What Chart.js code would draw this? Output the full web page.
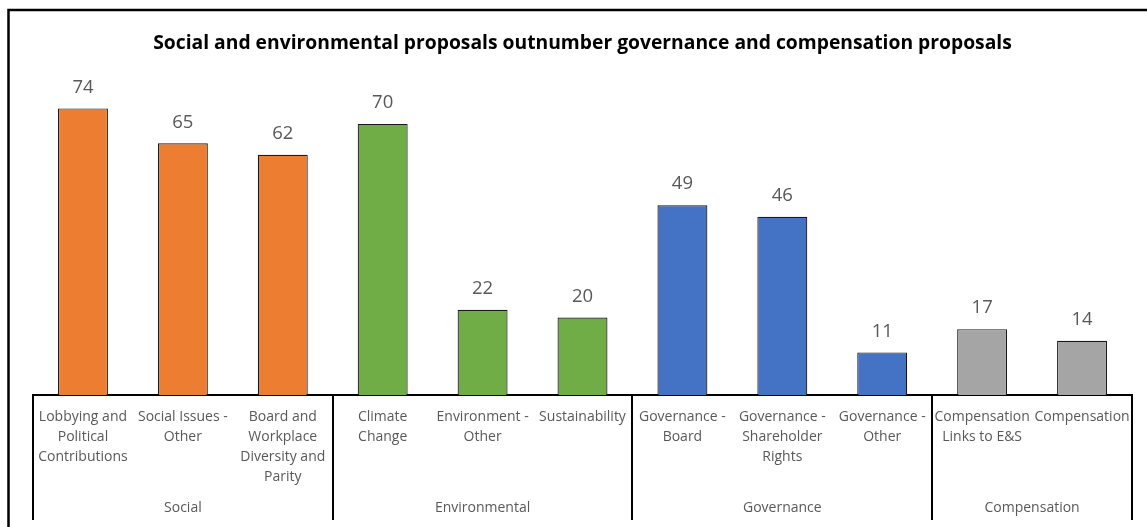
<!DOCTYPE html>
<html><head><meta charset="utf-8">
<script src="https://cdn.jsdelivr.net/npm/chart.js@4/dist/chart.umd.min.js"></script>
<style>html,body{margin:0;padding:0;background:#fff}#wrap{position:relative;width:1147px;height:527px}</style>
</head><body><div id="wrap"><canvas id="c" width="1147" height="527"></canvas></div>
<script>
const title = "Social and environmental proposals outnumber governance and compensation proposals";
const categories = [
  ["Lobbying and","Political","Contributions"],
  ["Social Issues -","Other"],
  ["Board and","Workplace","Diversity and","Parity"],
  ["Climate","Change"],
  ["Environment -","Other"],
  ["Sustainability"],
  ["Governance -","Board"],
  ["Governance -","Shareholder","Rights"],
  ["Governance -","Other"],
  ["Compensation","Links to E&S"],
  ["Compensation"]
];
const values = [74, 65, 62, 70, 22, 20, 49, 46, 11, 17, 14];
const groups = ["Social", "Environmental", "Governance", "Compensation"];
const groupSizes = [3, 3, 3, 2];
const groupColors = ["#ED7D31", "#70AD47", "#4472C4", "#A5A5A5"];
const yMin = 0, yMax = 80;

const FONT = "'Open Sans', 'DejaVu Sans', sans-serif";
const barColors = [];
groupSizes.forEach((n, g) => { for (let i = 0; i < n; i++) barColors.push(groupColors[g]); });

const decor = {
  id: 'decor',
  afterDraw(chart) {
    const ctx = chart.ctx;
    const xs = chart.scales.x;
    const area = chart.chartArea;
    const step = xs.width / categories.length;
    ctx.save();
    // data labels
    const meta = chart.getDatasetMeta(0);
    ctx.font = "18.5px " + FONT;
    ctx.fillStyle = "#595959";
    ctx.textAlign = "center";
    ctx.textBaseline = "middle";
    meta.data.forEach((bar, i) => {
      ctx.fillText(String(values[i]), bar.x, bar.y - 21);
    });
    // group separators and labels
    ctx.strokeStyle = "#000";
    ctx.lineWidth = 2;
    let idx = 0;
    const bounds = [0];
    groupSizes.forEach(n => { idx += n; bounds.push(idx); });
    bounds.forEach(b => {
      const x = Math.round(xs.getPixelForValue(b) - step / 2);
      ctx.beginPath();
      ctx.moveTo(x, area.bottom);
      ctx.lineTo(x, 520);
      ctx.stroke();
    });
    ctx.font = "14px " + FONT;
    for (let g = 0; g < groups.length; g++) {
      const x0 = xs.getPixelForValue(bounds[g]) - step / 2;
      const x1 = xs.getPixelForValue(bounds[g + 1]) - step / 2;
      ctx.fillText(groups[g], (x0 + x1) / 2, 508);
    }
    // outer frame
    ctx.lineWidth = 2.5;
    ctx.beginPath();
    ctx.moveTo(8.5, 527);
    ctx.lineTo(8.5, 10);
    ctx.lineTo(1147, 10);
    ctx.stroke();
    ctx.restore();
  }
};

new Chart(document.getElementById('c'), {
  type: 'bar',
  data: {
    labels: categories,
    datasets: [{
      data: values,
      backgroundColor: barColors,
      borderColor: "#1a1a1a",
      borderWidth: 1.2,
      categoryPercentage: 1,
      barPercentage: 0.5
    }]
  },
  options: {
    responsive: false,
    animation: false,
    devicePixelRatio: 1,
    layout: { padding: { left: 33, right: 15, top: 0, bottom: 0 } },
    plugins: {
      legend: { display: false },
      tooltip: { enabled: false },
      title: {
        display: true,
        text: title,
        color: "#000",
        font: { family: FONT, size: 19.3, weight: 'bold', lineHeight: 1.2 },
        padding: { top: 32, bottom: 30 }
      }
    },
    scales: {
      y: { display: false, min: yMin, max: yMax },
      x: {
        z: 1,
        grid: { display: false, drawTicks: false },
        border: { display: true, color: "#000", width: 2 },
        ticks: {
          autoSkip: false, maxRotation: 0, minRotation: 0,
          color: "#595959",
          font: { family: FONT, size: 14, lineHeight: '20px' },
          padding: 12
        },
        afterFit(scale) { scale.height = 132; }
      }
    }
  },
  plugins: [decor]
});
</script>
</body></html>
